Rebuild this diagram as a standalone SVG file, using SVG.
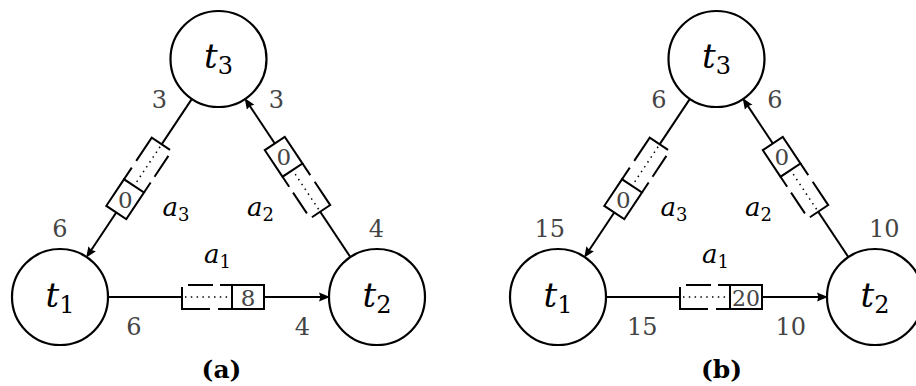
<svg xmlns="http://www.w3.org/2000/svg" xmlns:xlink="http://www.w3.org/1999/xlink" width="916" height="386" viewBox="0 0 916 386">
<defs>
<style>
.node{fill:#fff;stroke:#000;stroke-width:2.2}
.edge{fill:none;stroke:#000;stroke-width:2}
.box{fill:#fff;stroke:#000;stroke-width:2}
.dots{fill:none;stroke:#000;stroke-width:1.5;stroke-dasharray:1.5 4.3}
text{font-family:'DejaVu Serif','Liberation Serif',serif}
.t{font-style:italic;font-size:34px;text-anchor:middle}
.sub{font-style:normal;font-size:24px}
.lab{font-style:italic;font-size:26px;text-anchor:middle}
.lsub{font-style:normal;font-size:18px}
.w{font-size:24px;fill:#444;text-anchor:middle}
.bn{font-size:23px;fill:#444;text-anchor:middle}
.ws{text-anchor:start}
.we{text-anchor:end}
.cap{font-weight:bold;font-size:25px;text-anchor:middle}
</style>
<marker id="arr" markerUnits="userSpaceOnUse" markerWidth="13" markerHeight="10" refX="7" refY="0" viewBox="0 -5 13 10" orient="auto"><path d="M0,-4.5 L11,0 L0,4.5 L1.5,0 z" fill="#000"/></marker>
<g id="buf">
<rect x="-41" y="-12" width="82" height="24" fill="#fff"/>
<path class="edge" d="M-41,-10V12H-13M-5,12H9M-35,-12H-10M-3,-12H9"/>
<path class="dots" d="M-38,0H8"/>
<rect class="box" x="9" y="-12" width="32" height="24"/>
</g>
</defs>

<!-- Panel (a) -->
<g id="panel-a">
<g id="connectors-a">
<path class="edge" d="M108,297H326" marker-end="url(#arr)"/>
<path class="edge" d="M191.9,98.9L88.3,254.5" marker-end="url(#arr)"/>
<path class="edge" d="M350.4,257.1L246.8,101.4" marker-end="url(#arr)"/>
<use href="#buf" xlink:href="#buf" transform="translate(223,297)"/>
<use href="#buf" xlink:href="#buf" transform="translate(139,178.4) rotate(123.66)"/>
<use href="#buf" xlink:href="#buf" transform="translate(297.5,177.6) rotate(-123.66)"/>
<text class="bn" x="248" y="305.5">8</text>
<text class="bn" x="125.2" y="207.5">0</text>
<text class="bn" x="283.7" y="165.2">0</text>
<text class="lab" x="217.5" y="263">a<tspan class="lsub" dy="5">1</tspan></text>
<text class="lab" x="260.5" y="216">a<tspan class="lsub" dy="5">2</tspan></text>
<text class="lab" x="176" y="216">a<tspan class="lsub" dy="5">3</tspan></text>
</g>
<g id="t1-a"><circle class="node" cx="60" cy="297" r="48"/><text class="t" x="60" y="307">t<tspan class="sub" dy="6">1</tspan></text></g>
<g id="t2-a"><circle class="node" cx="377" cy="297" r="48"/><text class="t" x="377" y="307">t<tspan class="sub" dy="6">2</tspan></text></g>
<g id="t3-a"><circle class="node" cx="218.5" cy="59" r="48"/><text class="t" x="218.5" y="68">t<tspan class="sub" dy="6">3</tspan></text></g>
<g id="weights-a">
<text class="w" x="159.5" y="108">3</text>
<text class="w" x="276.5" y="108">3</text>
<text class="w" x="60" y="237">6</text>
<text class="w" x="376.5" y="237">4</text>
<text class="w" x="134" y="335">6</text>
<text class="w" x="302.5" y="335">4</text>
</g>
<text class="cap" x="221.5" y="378">(a)</text>
</g>

<!-- Panel (b) -->
<g id="panel-b">
<g transform="translate(498,0)">
<g id="connectors-b">
<path class="edge" d="M108,297H326" marker-end="url(#arr)"/>
<path class="edge" d="M191.9,98.9L88.3,254.5" marker-end="url(#arr)"/>
<path class="edge" d="M350.4,257.1L246.8,101.4" marker-end="url(#arr)"/>
<use href="#buf" xlink:href="#buf" transform="translate(223,297)"/>
<use href="#buf" xlink:href="#buf" transform="translate(139,178.4) rotate(123.66)"/>
<use href="#buf" xlink:href="#buf" transform="translate(297.5,177.6) rotate(-123.66)"/>
<text class="bn" x="248" y="305.5" textLength="28" lengthAdjust="spacingAndGlyphs">20</text>
<text class="bn" x="125.2" y="207.5">0</text>
<text class="bn" x="283.7" y="165.2">0</text>
<text class="lab" x="217.5" y="263">a<tspan class="lsub" dy="5">1</tspan></text>
<text class="lab" x="260.5" y="216">a<tspan class="lsub" dy="5">2</tspan></text>
<text class="lab" x="176" y="216">a<tspan class="lsub" dy="5">3</tspan></text>
</g>
<g id="t1-b"><circle class="node" cx="60" cy="297" r="48"/><text class="t" x="60" y="307">t<tspan class="sub" dy="6">1</tspan></text></g>
<g id="t2-b"><circle class="node" cx="377" cy="297" r="48"/><text class="t" x="377" y="307">t<tspan class="sub" dy="6">2</tspan></text></g>
<g id="t3-b"><circle class="node" cx="218.5" cy="59" r="48"/><text class="t" x="218.5" y="68">t<tspan class="sub" dy="6">3</tspan></text></g>
</g>
<g id="weights-b">
<text class="w" x="659" y="108">6</text>
<text class="w" x="775" y="108">6</text>
<text class="w we" x="565" y="237">15</text>
<text class="w ws" x="869" y="237">10</text>
<text class="w ws" x="627" y="335">15</text>
<text class="w we" x="806" y="335">10</text>
</g>
<text class="cap" x="721.5" y="378">(b)</text>
</g>
</svg>
